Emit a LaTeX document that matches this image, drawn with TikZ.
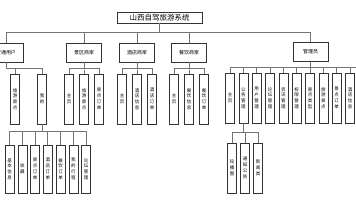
\documentclass[tikz,border=0pt]{standalone}
\usepackage{fontspec}
\newfontfamily\cjk{Noto Sans CJK SC}
\usetikzlibrary{shadows}
\begin{document}
\begin{tikzpicture}[x=1pt,y=-1pt,
  box/.style={draw=black!80, line width=0.5pt, fill=white, inner sep=0pt, align=center,
    drop shadow={shadow xshift=0.7pt, shadow yshift=-0.7pt, fill=black!35, opacity=1}},
  titlebox/.style={box, minimum width=85pt, minimum height=11pt, font=\cjk\fontsize{7.5}{8}\selectfont},
  lone/.style={box, minimum width=35pt, minimum height=19pt, font=\cjk\fontsize{5}{6}\selectfont},
  leaf/.style={box, minimum width=9pt, minimum height=50pt, font=\cjk\fontsize{4.5}{5.8}\selectfont},
  sleaf/.style={box, minimum width=9pt, minimum height=48pt, font=\cjk\fontsize{4.5}{5.8}\selectfont},
  link/.style={draw=black!55, line width=0.7pt}]
\useasboundingbox (0,0) rectangle (356,200);
\fill[white] (0,0) rectangle (356,200);

% root and first level
\node[titlebox] (root) at (159.5,17.5) {山西自驾旅游系统};
\node[lone] (u) at (6,52.5) {普通用户};
\node[lone] (s) at (84,52.5) {景区商家};
\node[lone] (h) at (137,52.5) {酒店商家};
\node[lone] (c) at (189,52.5) {餐饮商家};
\node[lone] (a) at (310.5,52) {管理员};

\foreach \n in {u,s,h,c,a}
  \draw[link] (root.south) -- (root.south |- 0,32) -| (\n.north);

% user
\node[leaf] (u1) at (15,99) {旅\\游\\景\\点};
\node[leaf] (u2) at (42,99) {我\\的};
\foreach \n in {u1,u2}
  \draw[link] (u.south) -- (u.south |- 0,68) -| (\n.north);

% my
\node[sleaf] (m1) at (9.5,169) {基\\本\\信\\息};
\node[sleaf] (m2) at (22.25,169) {收\\藏};
\node[sleaf] (m3) at (35,169) {景\\点\\订\\单};
\node[sleaf] (m4) at (47.75,169) {酒\\店\\订\\单};
\node[sleaf] (m5) at (60.5,169) {餐\\饮\\订\\单};
\node[sleaf] (m6) at (73.25,169) {我\\的\\行\\程};
\node[sleaf] (m7) at (86,169) {论\\坛\\管\\理};
\foreach \n in {m1,m2,m3,m4,m5,m6,m7}
  \draw[link] (u2.south) -- (u2.south |- 0,131) -| (\n.north);

% scenic merchant
\node[leaf] (s1) at (69,99) {主\\页};
\node[leaf] (s2) at (84,99) {旅\\游\\景\\点};
\node[leaf] (s3) at (99,99) {景\\点\\订\\单};
\foreach \n in {s1,s2,s3}
  \draw[link] (s.south) -- (s.south |- 0,68) -| (\n.north);

% hotel merchant
\node[leaf] (h1) at (122,99) {主\\页};
\node[leaf] (h2) at (137,99) {酒\\店\\信\\息};
\node[leaf] (h3) at (152,99) {酒\\店\\订\\单};
\foreach \n in {h1,h2,h3}
  \draw[link] (h.south) -- (h.south |- 0,68) -| (\n.north);

% food merchant
\node[leaf] (c1) at (174,99) {主\\页};
\node[leaf] (c2) at (189,99) {餐\\饮\\信\\息};
\node[leaf] (c3) at (204,99) {餐\\饮\\订\\单};
\foreach \n in {c1,c2,c3}
  \draw[link] (c.south) -- (c.south |- 0,68) -| (\n.north);

% admin
\node[leaf] (a1) at (230,98) {主\\页};
\node[leaf] (a2) at (243.3,98) {公\\告\\管\\理};
\node[leaf] (a3) at (256.7,98) {用\\户\\管\\理};
\node[leaf] (a4) at (270,98) {论\\坛\\管\\理};
\node[leaf] (a5) at (283.3,98) {资\\讯\\管\\理};
\node[leaf] (a6) at (296.7,98) {权\\限\\管\\理};
\node[leaf] (a7) at (310,98) {景\\点\\类\\型};
\node[leaf] (a8) at (323.3,98) {旅\\游\\景\\点};
\node[leaf] (a9) at (336.7,98) {景\\点\\订\\单};
\node[leaf] (a10) at (350,98) {酒\\店\\信\\息};
\coordinate (aend) at (360,67);
\foreach \n in {a1,a2,a3,a4,a5,a6,a7,a8,a9,a10}
  \draw[link] (a.south) -- (a.south |- 0,67) -| (\n.north);
\draw[link] (a.south |- 0,67) -- (aend);

% notice
\node[leaf] (n1) at (232,168) {轮\\播\\图};
\node[leaf] (n2) at (245,168) {通\\知\\公\\告};
\node[leaf] (n3) at (258,168) {新\\闻\\类};
\foreach \n in {n1,n2,n3}
  \draw[link] (a2.south) -- (a2.south |- 0,132) -| (\n.north);
\end{tikzpicture}
\end{document}
